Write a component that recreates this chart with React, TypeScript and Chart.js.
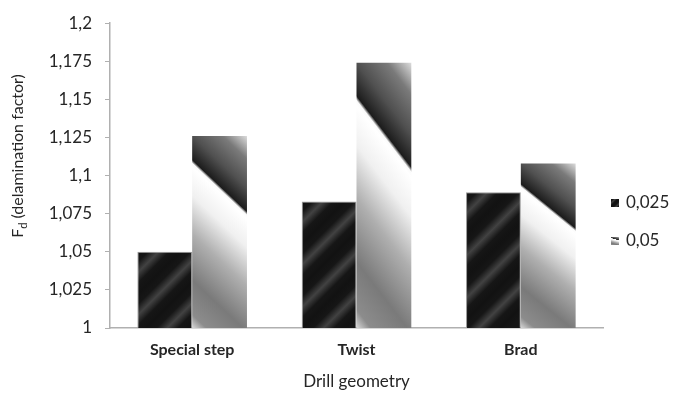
import { useEffect, useRef } from "react";
import { Chart, registerables } from "chart.js";

Chart.register(...registerables);

// Delamination factor by drill geometry, for two feed rates
const categories = ["Special step", "Twist", "Brad"];
const seriesNames = ["0,025", "0,05"];
const feed0025 = [1.05, 1.083, 1.089];
const feed005 = [1.126, 1.174, 1.108];
const yMin = 1;
const yMax = 1.2;
const yStep = 0.025;
const xTitle = "Drill geometry";
const yTitleMain = "F";
const yTitleSub = "d";
const yTitleRest = " (delamination factor)";

const CATEGORY_PCT = 0.667;
const FONT = "Lato, 'Open Sans', sans-serif";
const TEXT = "#262626";
const AXIS = "#b0b0b0";

type Rect = { left: number; right: number; top: number; bottom: number };

function grey(v: number) {
  return `rgb(${v},${v},${v})`;
}

// Rectangle of one bar, from the same scales the bar controller uses
function barRect(chart: Chart, datasetIndex: number, dataIndex: number, value: number): Rect {
  const xs: any = chart.scales.x;
  const ys: any = chart.scales.y;
  const cat = (xs.right - xs.left) / categories.length;
  const group = cat * CATEGORY_PCT;
  const w = group / 2;
  const left = xs.getPixelForValue(dataIndex) - group / 2 + datasetIndex * w;
  return { left, right: left + w, top: ys.getPixelForValue(value), bottom: ys.getPixelForValue(yMin) };
}

// Dark fill with soft diagonal highlights rising to the right
function stripeFill(ctx: CanvasRenderingContext2D, r: Rect, period = 30) {
  const w = r.right - r.left;
  const h = r.bottom - r.top;
  const span = (w + h) / Math.SQRT2;
  const g = ctx.createLinearGradient(r.left, r.top, r.left + (w + h) / 2, r.top + (w + h) / 2);
  const pattern: [number, number][] = [
    [0, 18],
    [0.25, 22],
    [0.5, 66],
    [0.75, 22],
  ];
  for (let k = 0; k * period < span; k++) {
    for (const [f, c] of pattern) {
      const off = ((k + f) * period) / span;
      if (off <= 1) g.addColorStop(off, grey(c));
    }
  }
  g.addColorStop(1, grey(22));
  return g;
}

// Light fill: grey-to-white sweep, a sharp dark diagonal, then grey toward the top
function sheenFill(ctx: CanvasRenderingContext2D, r: Rect) {
  const w = r.right - r.left;
  const h = r.bottom - r.top;
  const e0x = r.left;
  const e0y = r.top + 0.13 * h;
  const nx = 0.27 * h;
  const ny = -w;
  const nn = nx * nx + ny * ny;
  const k = (h * w) / nn;
  const lo = -0.87;
  const hiT = 0.4;
  const g = ctx.createLinearGradient(
    e0x + lo * k * nx,
    e0y + lo * k * ny,
    e0x + hiT * k * nx,
    e0y + hiT * k * ny
  );
  const stops: [number, number][] = [
    [-0.87, 215],
    [-0.8, 140],
    [-0.62, 122],
    [-0.38, 175],
    [-0.18, 240],
    [-0.03, 255],
    [-0.012, 250],
    [0.006, 28],
    [0.13, 80],
    [0.28, 122],
    [0.4, 220],
  ];
  for (const [t, v] of stops) g.addColorStop((t - lo) / (hiT - lo), grey(v));
  return g;
}

function fillFor(kind: number) {
  return (c: any) => {
    const chart: Chart = c.chart;
    if (!chart.chartArea || c.dataIndex === undefined || !chart.scales.x) return kind === 0 ? grey(25) : grey(170);
    const values = kind === 0 ? feed0025 : feed005;
    const r = barRect(chart, kind, c.dataIndex, values[c.dataIndex]);
    return kind === 0 ? stripeFill(chart.ctx, r) : sheenFill(chart.ctx, r);
  };
}

function formatTick(v: number) {
  return String(parseFloat(v.toFixed(3))).replace(".", ",");
}

// Rotated y title with subscript and the right-hand legend
const decorPlugin = {
  id: "decor",
  afterDraw(chart: Chart) {
    const ctx = chart.ctx;
    ctx.save();
    const big = `16px ${FONT}`;
    const small = `11px ${FONT}`;
    ctx.font = big;
    const wF = ctx.measureText(yTitleMain).width;
    const wRest = ctx.measureText(yTitleRest).width;
    ctx.font = small;
    const wd = ctx.measureText(yTitleSub).width;
    const total = wF + wd + wRest;
    ctx.translate(18, 156);
    ctx.rotate(-Math.PI / 2);
    ctx.fillStyle = TEXT;
    ctx.textBaseline = "middle";
    ctx.textAlign = "left";
    let x = -total / 2;
    ctx.font = big;
    ctx.fillText(yTitleMain, x, 0);
    x += wF;
    ctx.font = small;
    ctx.fillText(yTitleSub, x, 5);
    x += wd;
    ctx.font = big;
    ctx.fillText(yTitleRest, x, 0);
    ctx.restore();

    ctx.save();
    const items = [
      { y: 203, fill: (r: Rect) => stripeFill(ctx, r, 6) },
      { y: 241, fill: (r: Rect) => sheenFill(ctx, r) },
    ];
    items.forEach((it, i) => {
      const r = { left: 611, right: 619, top: it.y - 4, bottom: it.y + 4 };
      ctx.fillStyle = it.fill(r);
      ctx.fillRect(r.left, r.top, 8, 8);
      ctx.fillStyle = TEXT;
      ctx.font = `17px ${FONT}`;
      ctx.textBaseline = "middle";
      ctx.textAlign = "left";
      ctx.fillText(seriesNames[i], 626, it.y);
    });
    ctx.restore();
  },
};

export default function App() {
  const ref = useRef<HTMLCanvasElement | null>(null);

  useEffect(() => {
    if (!ref.current) return;
    const chart = new Chart(ref.current, {
      type: "bar",
      data: {
        labels: categories,
        datasets: [
          {
            label: seriesNames[0],
            data: feed0025,
            backgroundColor: fillFor(0),
            borderColor: "#9a9a9a",
            borderWidth: 1,
            categoryPercentage: CATEGORY_PCT,
            barPercentage: 1,
          },
          {
            label: seriesNames[1],
            data: feed005,
            backgroundColor: fillFor(1),
            borderWidth: 0,
            categoryPercentage: CATEGORY_PCT,
            barPercentage: 1,
          },
        ],
      },
      options: {
        animation: false,
        responsive: true,
        maintainAspectRatio: false,
        layout: { padding: { top: 17, right: 75, bottom: 0, left: 0 } },
        plugins: {
          legend: { display: false },
          tooltip: { enabled: false },
        },
        scales: {
          x: {
            grid: { display: false, drawTicks: false },
            border: { display: true, color: AXIS, width: 1.5 },
            ticks: { color: TEXT, font: { family: FONT, size: 16, weight: "bold" }, padding: 12 },
            title: {
              display: true,
              text: xTitle,
              color: TEXT,
              font: { family: FONT, size: 17 },
              padding: { top: 0, bottom: 1 },
            },
            afterFit: (s: any) => {
              s.height = 65;
            },
          },
          y: {
            min: yMin,
            max: yMax,
            grid: { display: true, drawOnChartArea: false, drawTicks: true, tickLength: 5, color: AXIS },
            border: { display: true, color: AXIS, width: 1.5 },
            ticks: {
              stepSize: yStep,
              color: TEXT,
              font: { family: FONT, size: 17 },
              padding: 13,
              callback: (v: any) => formatTick(Number(v)),
            },
            afterFit: (s: any) => {
              s.width = 110;
            },
          },
        },
      },
      plugins: [decorPlugin],
    });
    return () => chart.destroy();
  }, []);

  return (
    <div style={{ position: "fixed", left: 0, top: 0, width: 678, height: 393, background: "#fff" }}>
      <canvas ref={ref} />
    </div>
  );
}
